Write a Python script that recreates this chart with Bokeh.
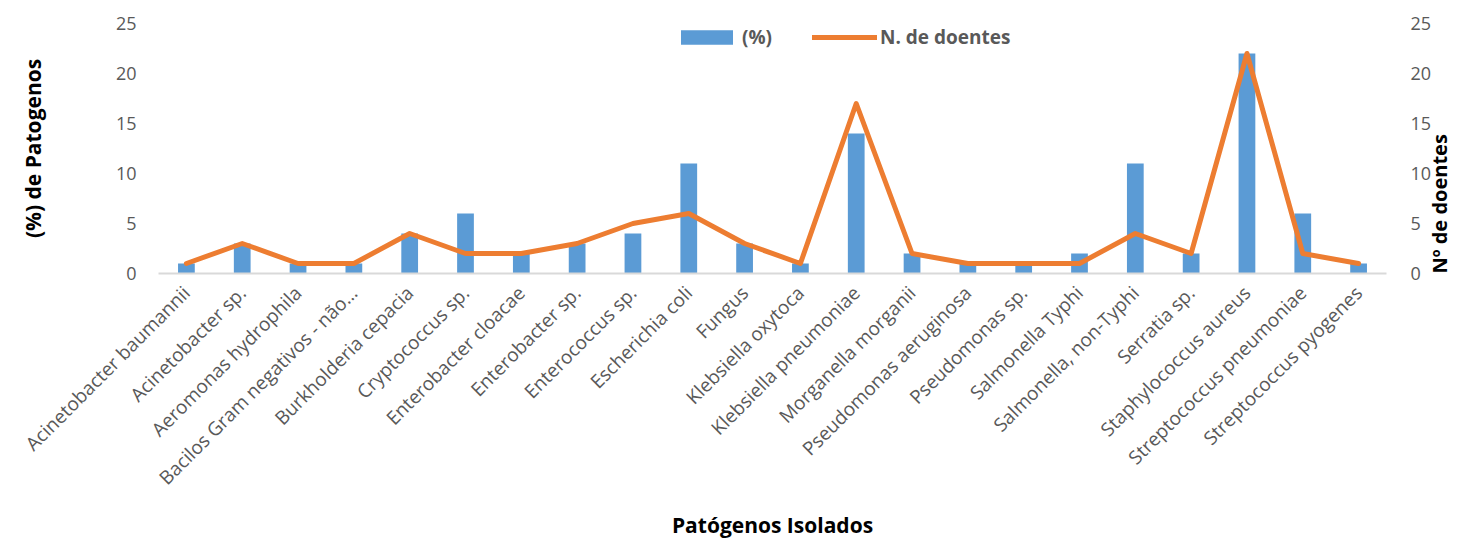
from math import pi

from bokeh.embed import file_html
from bokeh.models import (ColumnDataSource, FactorRange, FixedTicker, Legend,
                          LegendItem, LinearAxis, Range1d)
from bokeh.plotting import figure
from bokeh.resources import INLINE

# Isolated pathogens, share of isolates (%) and number of patients
pathogens = [
    "Acinetobacter baumannii", "Acinetobacter sp.", "Aeromonas hydrophila",
    "Bacilos Gram negativos - não…", "Burkholderia cepacia", "Cryptococcus sp.",
    "Enterobacter cloacae", "Enterobacter sp.", "Enterococcus sp.",
    "Escherichia coli", "Fungus", "Klebsiella oxytoca", "Klebsiella pneumoniae",
    "Morganella morganii", "Pseudomonas aeruginosa", "Pseudomonas sp.",
    "Salmonella Typhi", "Salmonella, non-Typhi", "Serratia sp.",
    "Staphylococcus aureus", "Streptococcus pneumoniae", "Streptococcus pyogenes",
]
percent = [1, 3, 1, 1, 4, 6, 2, 3, 4, 11, 3, 1, 14, 2, 1, 1, 2, 11, 2, 22, 6, 1]
patients = [1, 3, 1, 1, 4, 2, 2, 3, 5, 6, 3, 1, 17, 2, 1, 1, 1, 4, 2, 22, 2, 1]
y_ticks = [0, 5, 10, 15, 20, 25]

BAR_COLOR = "#5B9BD5"
LINE_COLOR = "#ED7D31"
TEXT_COLOR = "#595959"
FONT = "Open Sans"

source = ColumnDataSource(dict(pathogen=pathogens, percent=percent, patients=patients))

p = figure(
    width=1470, height=546,
    x_range=FactorRange(factors=pathogens, range_padding=0),
    y_range=Range1d(0, 25),
    output_backend="svg", toolbar_location=None,
    min_border_left=158, min_border_right=84,
    min_border_top=23, min_border_bottom=273,
)
p.extra_y_ranges = {"patients": Range1d(0, 25)}

bars = p.vbar(x="pathogen", top="percent", width=0.3, source=source,
              fill_color=BAR_COLOR, line_color=None)
line = p.line(x="pathogen", y="patients", source=source, y_range_name="patients",
              line_color=LINE_COLOR, line_width=5, line_join="round", line_cap="round")

# styling: no grid, no outline, light baseline
p.outline_line_color = None
p.xgrid.grid_line_color = None
p.ygrid.grid_line_color = None


def style_title(axis, size, standoff):
    axis.axis_label_text_font = FONT
    axis.axis_label_text_font_size = size
    axis.axis_label_text_font_style = "bold"
    axis.axis_label_text_color = "#000000"
    axis.axis_label_standoff = standoff


xa = p.xaxis[0]
xa.axis_line_color = "#D9D9D9"
xa.axis_line_width = 2
xa.major_tick_line_color = None
xa.minor_tick_line_color = None
xa.major_label_orientation = pi / 4
xa.major_label_text_font = FONT
xa.major_label_text_font_size = "19px"
xa.major_label_text_color = TEXT_COLOR
xa.major_label_standoff = 10
xa.axis_label = "Patógenos Isolados"
style_title(xa, "21px", 9)

ya = p.yaxis[0]
ya.ticker = FixedTicker(ticks=y_ticks)
ya.axis_line_color = None
ya.major_tick_line_color = None
ya.minor_tick_line_color = None
ya.major_label_text_font = FONT
ya.major_label_text_font_size = "18px"
ya.major_label_text_color = TEXT_COLOR
ya.major_label_standoff = 16
ya.axis_label = "(%) de Patogenos"
style_title(ya, "21px", 66)

ra = LinearAxis(y_range_name="patients", ticker=FixedTicker(ticks=y_ticks))
ra.axis_line_color = None
ra.major_tick_line_color = None
ra.minor_tick_line_color = None
ra.major_label_text_font = FONT
ra.major_label_text_font_size = "18px"
ra.major_label_text_color = TEXT_COLOR
ra.major_label_standoff = 18
ra.axis_label = "Nº de doentes"
ra.axis_label_orientation = pi / 2
ra.axis_label_align = "start"
style_title(ra, "20px", 5)
p.add_layout(ra, "right")

legend = Legend(
    items=[LegendItem(label="(%)", renderers=[bars]),
           LegendItem(label="N. de doentes", renderers=[line])],
    orientation="horizontal",
    location=(516, 223),
    glyph_width=65, glyph_height=18,
    label_text_font=FONT, label_text_font_size="19px",
    label_text_font_style="bold", label_text_color=TEXT_COLOR,
    label_standoff=3, spacing=40, padding=0, margin=0,
    border_line_color=None, background_fill_alpha=0,
)
p.add_layout(legend, "center")

open("out.html", "w").write(file_html(p, INLINE))
